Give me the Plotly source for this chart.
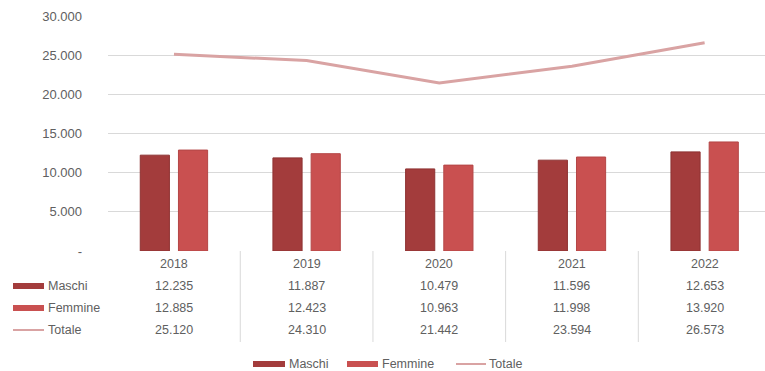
import plotly.graph_objects as go

anni = ["2018", "2019", "2020", "2021", "2022"]
maschi = [12235, 11887, 10479, 11596, 12653]
femmine = [12885, 12423, 10963, 11998, 13920]
totale = [25120, 24310, 21442, 23594, 26573]
y_tick_vals = [0, 5000, 10000, 15000, 20000, 25000, 30000]
y_tick_text = ["-", "5.000", "10.000", "15.000", "20.000", "25.000", "30.000"]

W, H = 765, 371
C_M = "#a33c3c"
C_F = "#c95050"
C_T = "#d9a3a3"
TXT = "#606060"
FONT = "Liberation Sans"


def px(x):
    return x / W


def py(y):
    return 1 - y / H


def fmt(v):
    return f"{v:,}".replace(",", ".")


xs = list(range(len(anni)))

fig = go.Figure()
fig.add_trace(go.Bar(x=xs, y=maschi, name="Maschi", marker=dict(color=C_M, line=dict(color="#8e3232", width=1))))
fig.add_trace(go.Bar(x=xs, y=femmine, name="Femmine", marker=dict(color=C_F, line=dict(color="#b44646", width=1))))
fig.add_trace(go.Scatter(x=xs, y=totale, name="Totale", mode="lines", line=dict(color=C_T, width=3)))

ann = []
shapes = []


def label(x, y, text, xref="paper", xanchor="left"):
    ann.append(dict(x=x, y=y, xref=xref, yref="paper", text=text, showarrow=False,
                    xanchor=xanchor, yanchor="middle",
                    font=dict(family=FONT, size=12.5, color=TXT)))


# data table
row_y = {"anni": 264, "Maschi": 286, "Femmine": 308, "Totale": 330}
for i, a in enumerate(anni):
    label(i, py(row_y["anni"]), a, xref="x", xanchor="center")
    for name, arr in (("Maschi", maschi), ("Femmine", femmine), ("Totale", totale)):
        label(i, py(row_y[name]), fmt(arr[i]), xref="x", xanchor="center")
for i in range(len(anni) - 1):
    shapes.append(dict(type="line", xref="x", yref="paper", x0=i + 0.5, x1=i + 0.5,
                       y0=py(251), y1=py(342), line=dict(color="#d9d9d9", width=1)))

# table row labels with keys
for name, col in (("Maschi", C_M), ("Femmine", C_F)):
    yc = row_y[name]
    shapes.append(dict(type="rect", xref="paper", yref="paper", x0=px(13), x1=px(44),
                       y0=py(yc + 3), y1=py(yc - 3), fillcolor=col, line=dict(width=0)))
    label(px(46), py(yc), name)
shapes.append(dict(type="line", xref="paper", yref="paper", x0=px(13), x1=px(44),
                   y0=py(row_y["Totale"]), y1=py(row_y["Totale"]), line=dict(color=C_T, width=2)))
label(px(46), py(row_y["Totale"]), "Totale")

# bottom legend
ly = 364
for x0, x1, tx, name, col in ((253, 285, 287, "Maschi", C_M), (347, 378, 380, "Femmine", C_F)):
    shapes.append(dict(type="rect", xref="paper", yref="paper", x0=px(x0), x1=px(x1),
                       y0=py(ly + 3), y1=py(ly - 3), fillcolor=col, line=dict(width=0)))
    label(px(tx), py(ly), name)
shapes.append(dict(type="line", xref="paper", yref="paper", x0=px(456), x1=px(486),
                   y0=py(ly), y1=py(ly), line=dict(color=C_T, width=2)))
label(px(487), py(ly), "Totale")

fig.update_layout(
    width=W, height=H,
    margin=dict(l=0, r=0, t=0, b=0, autoexpand=False),
    paper_bgcolor="white", plot_bgcolor="white",
    barmode="group", bargap=0.424, bargroupgap=0.237,
    showlegend=False,
    annotations=ann, shapes=shapes,
    xaxis=dict(domain=[px(107.6), 1], range=[-0.5, 4.455], showticklabels=False, showgrid=False,
               zeroline=False, showline=False, fixedrange=True, automargin=False),
    yaxis=dict(domain=[py(251), py(16)], range=[0, 30000], tickvals=y_tick_vals, ticktext=y_tick_text,
               showgrid=True, gridcolor="#d9d9d9", gridwidth=1, zeroline=False,
               tickfont=dict(family=FONT, size=13, color=TXT), ticks="outside", ticklen=22,
               tickcolor="rgba(0,0,0,0)", fixedrange=True, automargin=False),
)
fig.write_html("out.html")
